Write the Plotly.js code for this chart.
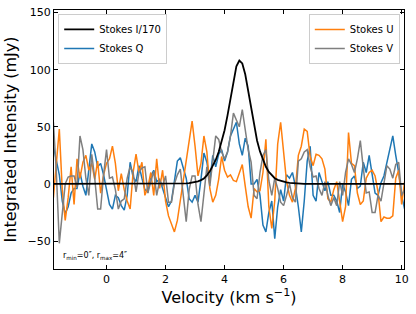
<!DOCTYPE html>
<html>
<head>
<meta charset="utf-8">
<script src="https://cdn.plot.ly/plotly-3.0.1.min.js"></script>
<style>html,body{margin:0;padding:0;background:#fff;}#chart{width:416px;height:314px;}</style>
</head>
<body>
<div id="chart"></div>
<script>
var velocity = [-1.8,-1.7,-1.6,-1.5,-1.4,-1.3,-1.2,-1.1,-1.0,-0.9,-0.8,-0.7,-0.6,-0.5,-0.4,-0.3,-0.2,-0.1,0.0,0.1,0.2,0.3,0.4,0.5,
0.6,0.7,0.8,0.9,1.0,1.1,1.2,1.3,1.4,1.5,1.6,1.7,1.8,1.9,2.0,2.1,2.2,2.3,2.4,2.5,2.6,2.7,2.8,2.9,
3.0,3.1,3.2,3.3,3.4,3.5,3.6,3.7,3.8,3.9,4.0,4.1,4.2,4.3,4.4,4.5,4.6,4.7,4.8,4.9,5.0,5.1,5.2,
5.3,5.4,5.5,5.6,5.7,5.8,5.9,6.0,6.1,6.2,6.3,6.4,6.5,6.6,6.7,6.8,6.9,7.0,7.1,7.2,7.3,7.4,7.5,7.6,
7.7,7.8,7.9,8.0,8.1,8.2,8.3,8.4,8.5,8.6,8.7,8.8,8.9,9.0,9.1,9.2,9.3,9.4,9.5,9.6,9.7,9.8,9.9,10.0,10.1];

var stokesI170 = [0,0,0,0,0,0,0,0,0,0,0,0,0,0,0,0,0,0,0,0,0,0,0,0,
0,0,0,0,0,0,0,0,0,0,0,0,0,0,0,0,0,0,0,0.3,0.4,0.5,0.7,1.1,
1.7,2.3,3.3,4.8,7.5,11,16,21,28,37,47,60,75,91,103,108,105.5,96,81,65,50,38,28.5,
21,15,10.5,7.3,5,3.6,2.6,1.9,1.3,0.9,0.6,0.4,0.3,0,0,0,0,0,0,0,0,0,0,0,
0,0,0,0,0,0,0,0,0,0,0,0,0,0,0,0,0,0,0,0,0,0,0,0,0];

var stokesQ = [33,20,8,-15,-26,-20,-8,-4,-4,10,-2,-10,10,35,28,15,18,8,-5,-18,-22,-10,-12,-19,
-23,-10,19,6,2,16,5,-5,-7,7,12,2,4,-4,-13,-20,-15,5,20,23,15,5,-13,-16,
-10,-16,4,27,19,2,25,15,26,30,20,28,42,48,54,35,25,40,33,0,0,4,-10,
-36,-42,-25,-15,-48,-20,-5,-15,8,5,10,-2,-20,-42,-15,20,33,-10,-15,10,2,-6,2,-10,
-10,-15,-25,0,-7,-19,4,7,-4,-2,19,10,25,7,-8,-10,1,7,19,28,42,25,10,-10,-22];

var stokesU = [-12,20,48,-5,-32,-12,15,-18,22,5,19,25,12,18,4,20,-8,8,18,22,33,18,-6,9,
-5,-15,-22,10,26,10,19,-10,-3,10,-10,22,-4,12,-15,-28,-36,-42,-32,-15,5,20,38,55,
33,7,18,42,28,-4,-16,-10,4,24,12,6,8,3,2,10,17,-2,-20,-30,-4,-7,-6,
10,39,-20,-39,-15,35,54,28,2,-10,-16,-4,25,33,48,46,24,16,26,25,22,13,-13,-16,
-5,2,-15,-33,-20,45,18,16,-8,-18,-15,5,10,12,7,-7,-33,-29,-30,-30,-28,5,12,-18,2];

var stokesV = [54,10,-52,-25,0,6,7,7,-3,42,30,5,-10,26,5,-22,-22,8,30,5,6,-5,-22,-15,
-13,5,15,10,-7,10,14,15,-8,2,11,-10,3,-2,7,-16,-16,0,8,13,-13,-33,-5,7,
7,-18,-33,-10,15,-2,19,42,39,28,22,28,42,62,56,50,65,45,30,19,-10,-13,10,
25,30,3,-10,5,-4,-16,-19,-10,0,-12,-16,20,22,28,30,15,6,7,-4,-10,2,-10,-19,
-12,-19,2,-10,10,22,17,10,22,38,14,-8,-7,-25,-25,-10,-15,2,16,13,5,17,19,-10,-5];

var xTicks = [0,2,4,6,8,10];
var yTicks = [-50,0,50,100,150];

var font = 'DejaVu Sans, sans-serif';

var traces = [
  {x: velocity, y: stokesQ, name: 'Stokes Q', type: 'scatter', mode: 'lines',
   line: {color: '#1f77b4', width: 1.5}, legend: 'legend', legendrank: 2},
  {x: velocity, y: stokesU, name: 'Stokes U', type: 'scatter', mode: 'lines',
   line: {color: '#ff7f0e', width: 1.5}, legend: 'legend2', legendrank: 1},
  {x: velocity, y: stokesV, name: 'Stokes V', type: 'scatter', mode: 'lines',
   line: {color: '#7f7f7f', width: 1.5}, legend: 'legend2', legendrank: 2},
  {x: velocity, y: stokesI170, name: 'Stokes I/170', type: 'scatter', mode: 'lines',
   line: {color: '#000000', width: 1.8}, legend: 'legend', legendrank: 1}
];

var legendBase = {
  bgcolor: 'rgba(255,255,255,0.85)', bordercolor: '#cccccc', borderwidth: 1,
  font: {family: font, size: 10, color: '#000'}, tracegroupgap: 0,
  yanchor: 'top', y: 0.985
};

var layout = {
  width: 416, height: 314,
  margin: {l: 54, r: 12, t: 10, b: 45, autoexpand: false},
  paper_bgcolor: '#ffffff', plot_bgcolor: '#ffffff',
  showlegend: true,
  legend: Object.assign({}, legendBase, {x: 0.012, xanchor: 'left'}),
  legend2: Object.assign({}, legendBase, {x: 0.988, xanchor: 'right'}),
  xaxis: {
    range: [-1.78, 10.08], tickvals: xTicks, ticktext: xTicks.map(String),
    automargin: false,
    showgrid: false, zeroline: false, showline: true, linecolor: '#000', linewidth: 1,
    mirror: 'ticks', ticks: 'inside', ticklen: 4, tickcolor: '#000',
    tickfont: {family: font, size: 11, color: '#000'},
    title: {text: 'Velocity (km s<sup>−1</sup>)', font: {family: font, size: 16, color: '#000'}, standoff: 4}
  },
  yaxis: {
    range: [-74.5, 152.3], tickvals: yTicks,
    automargin: false,
    showgrid: false, zeroline: false, showline: true, linecolor: '#000', linewidth: 1,
    mirror: 'ticks', ticks: 'inside', ticklen: 4, tickcolor: '#000',
    tickfont: {family: font, size: 11, color: '#000'},
    title: {text: 'Integrated Intensity (mJy)', font: {family: font, size: 16, color: '#000'}, standoff: 6}
  },
  annotations: [{
    xref: 'paper', yref: 'paper', x: 0.02, y: 0.025, xanchor: 'left', yanchor: 'bottom',
    text: 'r<sub>min</sub>=0″, r<sub>max</sub>=4″', showarrow: false,
    font: {family: font, size: 8, color: '#000'}
  }]
};

Plotly.newPlot('chart', traces, layout, {displayModeBar: false, staticPlot: true});
</script>
</body>
</html>
